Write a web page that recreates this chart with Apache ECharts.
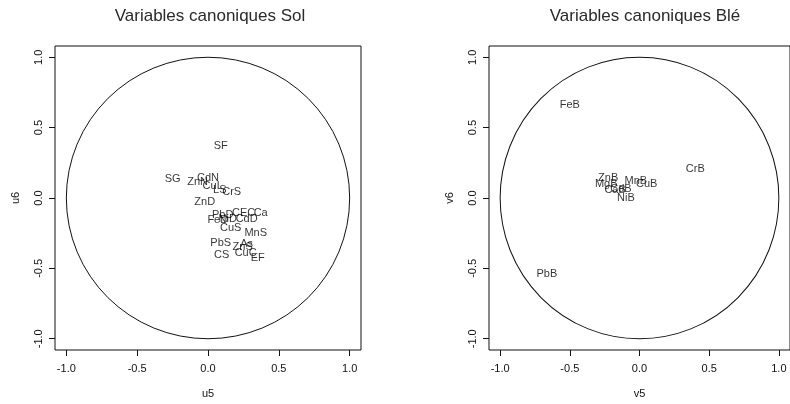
<!DOCTYPE html>
<html>
<head>
<meta charset="utf-8">
<script src="https://cdn.jsdelivr.net/npm/echarts@6/dist/echarts.min.js"></script>
<style>
  html, body { margin: 0; padding: 0; background: #fff; }
  #chart { width: 790px; height: 404px; }
</style>
</head>
<body>
<div id="chart"></div>
<script>
// Canonical variables of soil measurements (u5, u6)
const solLabels = ['SF', 'SG', 'ZnN', 'CdN', 'CuL', 'LS', 'CrS', 'ZnD', 'PbD', 'CEC', 'Ca', 'FeD', 'NiD', 'CdD', 'CuS', 'MnS', 'PbS', 'CS', 'As', 'ZnS', 'CuC', 'EF'];
const solU5 = [0.09, -0.25, -0.073, 0.0, 0.033, 0.083, 0.167, -0.023, 0.104, 0.252, 0.372, 0.069, 0.139, 0.273, 0.16, 0.337, 0.09, 0.097, 0.273, 0.245, 0.266, 0.351];
const solU6 = [0.37, 0.135, 0.114, 0.142, 0.085, 0.057, 0.043, -0.028, -0.121, -0.107, -0.107, -0.157, -0.149, -0.149, -0.214, -0.249, -0.32, -0.406, -0.327, -0.349, -0.391, -0.427];

// Canonical variables of wheat measurements (v5, v6)
const bleLabels = ['FeB', 'PbB', 'CrB', 'ZnB', 'MgB', 'CaB', 'CdB', 'NiB', 'MnB', 'CuB'];
const bleV5 = [-0.50, -0.665, 0.40, -0.225, -0.239, -0.175, -0.133, -0.097, -0.026, 0.052];
const bleV6 = [0.66, -0.54, 0.206, 0.142, 0.10, 0.057, 0.064, 0.0, 0.121, 0.10];

// Axis ticks and the correlation circle
const tickValues = [-1, -0.5, 0, 0.5, 1];
const circleRadius = [1];

const FONT = 'Liberation Sans, Arial, Helvetica, sans-serif';
const INK = '#111';

function xAxisFor(gridIndex, name) {
  return {
    gridIndex, type: 'value', min: -1.08, max: 1.08,
    name, nameLocation: 'middle', nameGap: 38,
    nameTextStyle: { color: INK, fontSize: 11, fontFamily: FONT },
    axisLine: { show: false, onZero: false },
    axisTick: { show: true, length: 6, inside: false, customValues: tickValues, lineStyle: { color: INK } },
    axisLabel: { customValues: tickValues, margin: 13, color: INK, fontSize: 11, fontFamily: FONT,
                 formatter: v => v.toFixed(1) },
    splitLine: { show: false }
  };
}
function yAxisFor(gridIndex, name) {
  return {
    gridIndex, type: 'value', min: -1.08, max: 1.08,
    name, nameLocation: 'middle', nameGap: 34,
    nameTextStyle: { color: INK, fontSize: 11, fontFamily: FONT },
    axisLine: { show: false, onZero: false },
    axisTick: { show: true, length: 6, inside: false, customValues: tickValues, lineStyle: { color: INK } },
    axisLabel: { customValues: tickValues, rotate: 90, margin: 11, color: INK, fontSize: 11, fontFamily: FONT,
                 formatter: v => v.toFixed(1) },
    splitLine: { show: false }
  };
}

function circleSeries(i) {
  return {
    type: 'custom', xAxisIndex: i, yAxisIndex: i, silent: true, clip: false,
    data: [[0, 0, circleRadius[0]]],
    renderItem: (params, api) => {
      const c = api.coord([api.value(0), api.value(1)]);
      const r = api.value(2);
      const s = api.size([r, r]);
      return {
        type: 'circle',
        shape: { cx: c[0], cy: c[1], r: s[0] },
        originX: c[0], originY: c[1], scaleY: s[1] / s[0],
        style: { fill: 'none', stroke: INK, lineWidth: 1 }
      };
    }
  };
}

function labelSeries(i, xs, ys, names) {
  return {
    type: 'scatter', xAxisIndex: i, yAxisIndex: i, silent: true,
    symbolSize: 1, itemStyle: { color: 'rgba(0,0,0,0)' },
    data: xs.map((x, k) => [x, ys[k], names[k]]),
    label: { show: true, position: 'inside', formatter: p => p.value[2],
             color: '#000', fontSize: 11, fontFamily: FONT },
    labelLayout: { hideOverlap: false },
    emphasis: { disabled: true }
  };
}

const chart = echarts.init(document.getElementById('chart'), null, { renderer: 'canvas' });
chart.setOption({
  animation: false,
  backgroundColor: '#fff',
  title: [
    { text: 'Variables canoniques Sol', left: 205, top: 3, textAlign: 'center',
      textStyle: { color: '#2a2a2a', fontSize: 17, fontWeight: 'normal', fontFamily: FONT } },
    { text: 'Variables canoniques Blé', left: 640, top: 3, textAlign: 'center',
      textStyle: { color: '#2a2a2a', fontSize: 17, fontWeight: 'normal', fontFamily: FONT } }
  ],
  grid: [
    { left: 55, top: 46, width: 306, height: 304, show: true, borderColor: INK, borderWidth: 1, backgroundColor: 'transparent' },
    { left: 489, top: 46, width: 306, height: 304, show: true, borderColor: INK, borderWidth: 1, backgroundColor: 'transparent' }
  ],
  xAxis: [xAxisFor(0, 'u5'), xAxisFor(1, 'v5')],
  yAxis: [yAxisFor(0, 'u6'), yAxisFor(1, 'v6')],
  series: [
    circleSeries(0),
    circleSeries(1),
    labelSeries(0, solU5, solU6, solLabels),
    labelSeries(1, bleV5, bleV6, bleLabels)
  ]
});
</script>
</body>
</html>
